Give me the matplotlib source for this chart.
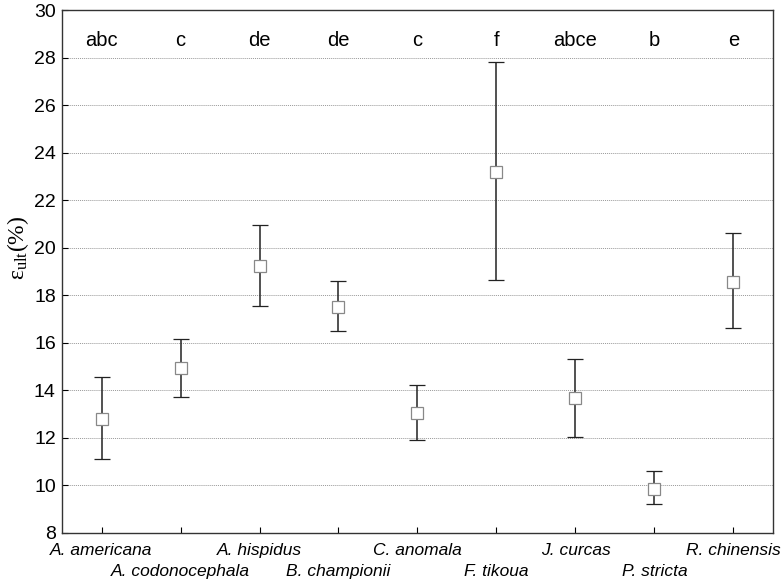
import matplotlib.pyplot as plt
import numpy as np

plt.rcParams['font.family'] = ['Liberation Sans', 'DejaVu Sans']

species = ['A. americana', 'A. codonocephala', 'A. hispidus', 'B. championii',
           'C. anomala', 'F. tikoua', 'J. curcas', 'P. stricta', 'R. chinensis']
means = [12.8, 14.93, 19.22, 17.52, 13.06, 23.18, 13.67, 9.85, 18.57]
upper = [14.56, 16.17, 20.95, 18.61, 14.23, 27.82, 15.32, 10.6, 20.62]
lower = [11.1, 13.72, 17.56, 16.5, 11.93, 18.63, 12.02, 9.22, 16.62]
letters = ['abc', 'c', 'de', 'de', 'c', 'f', 'abce', 'b', 'e']

x = np.arange(len(species))
means = np.array(means)
err = [means - np.array(lower), np.array(upper) - means]

fig = plt.figure(figsize=(7.83, 5.83), dpi=100)
ax = fig.add_axes([0.0792, 0.0858, 0.908, 0.897])

ax.yaxis.grid(True, linestyle=(0, (1, 1)), color='#999999', linewidth=0.7)
ax.set_axisbelow(True)

ax.errorbar(x, means, yerr=err, fmt='s', color='#222222', ecolor='#222222',
            elinewidth=1.1, capsize=6, capthick=1.1, markersize=8,
            markerfacecolor='white', markeredgecolor='#888888', markeredgewidth=0.9)

for xi, lab in zip(x, letters):
    ax.text(xi, 28.72, lab, ha='center', va='center', fontsize=14.5)

ax.set_xlim(-0.5, len(species) - 0.5)
ax.set_ylim(8, 30)
ax.set_yticks(np.arange(8, 31, 2))
ax.set_xticks(x)
ax.set_xticklabels(species, fontstyle='italic', fontsize=12.5)
ax.tick_params(direction='in', length=4)
ax.tick_params(axis='y', labelsize=14, pad=4.5)
ax.tick_params(axis='x', pad=7.5)
for i, t in enumerate(ax.xaxis.get_major_ticks()):
    if i % 2 == 1:
        t.set_pad(22.5)
for sp in ax.spines.values():
    sp.set_color('#333333')
    sp.set_linewidth(1.0)

ax.set_ylabel(r'$\mathregular{ε_{ult}}$(%)', family='Liberation Serif', fontsize=17)
ax.yaxis.set_label_coords(-0.044, 0.545)

fig.savefig('out.png', dpi=100)
